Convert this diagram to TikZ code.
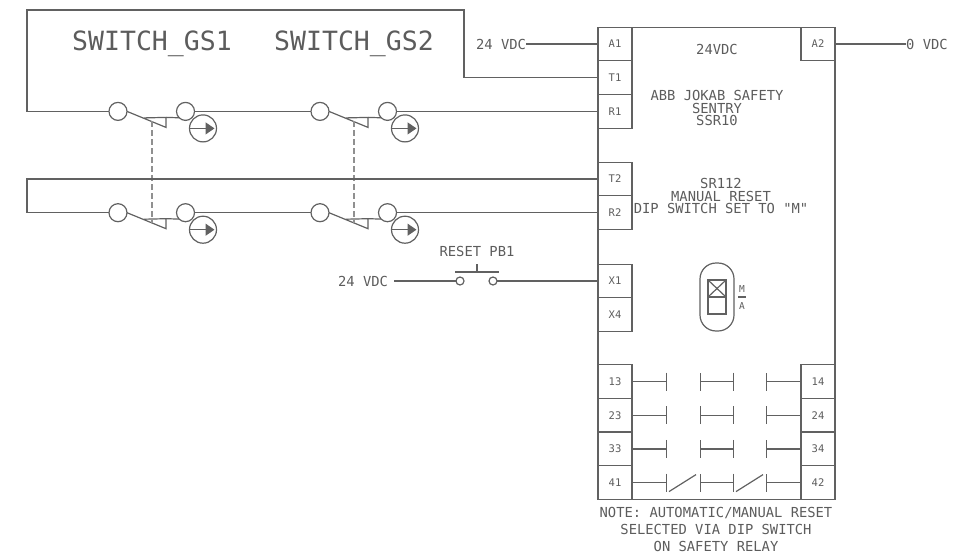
\documentclass[tikz,border=0pt]{standalone}
\usepackage{fontspec}
\setmonofont{DejaVu Sans Mono}
\usepackage{tikz}
\usetikzlibrary{arrows.meta, positioning}
\definecolor{wirecol}{gray}{0.38}
\definecolor{textcol}{gray}{0.36}
\tikzset{
  wire/.style={draw=wirecol, line width=1.2pt},
  term/.style={draw=wirecol, line width=1.2pt, minimum width=34pt, minimum height=33.7pt,
    inner sep=0pt, outer sep=0pt, text=textcol, font=\ttfamily\fontsize{10.5}{11}\selectfont},
  lbl/.style={text=textcol, inner sep=0pt, align=center, font=\ttfamily\fontsize{13.8}{12.5}\selectfont},
  biglbl/.style={text=textcol, inner sep=0pt, anchor=base, font=\ttfamily\fontsize{26.5}{26}\selectfont},
  notelbl/.style={lbl, font=\ttfamily\fontsize{13.8}{17}\selectfont},
  ring/.style={circle, draw=wirecol, line width=1.2pt, minimum size=18pt, inner sep=0pt, outer sep=0pt},
  pbring/.style={ring, minimum size=8pt},
  sensor/.style={ring, minimum size=27pt},
  contact/.style={wire, {Bar[width=18pt,length=1pt]}-{Bar[width=18pt,length=1pt]}}
}
\begin{document}
\begin{tikzpicture}[x=1pt, y=-1pt, node distance=33.7pt]
\useasboundingbox (0,0) rectangle (961,554);

% relay
\node[wire, minimum width=237pt, minimum height=472.5pt, inner sep=0pt, outer sep=0pt] (relay) at (716.5,263.4) {};
\node[term] (A1) at (615,44) {A1};
\node[term, below of=A1] (T1) {T1};
\node[term, below of=T1] (R1) {R1};
\node[term] (T2) at (615,179) {T2};
\node[term, below of=T2] (R2) {R2};
\node[term] (X1) at (615,281) {X1};
\node[term, below of=X1] (X4) {X4};
\node[term] (A2) at (818,44) {A2};
\node[term] (13) at (615,381.5) {13};
\node[term, below of=13] (23) {23};
\node[term, below of=23] (33) {33};
\node[term, below of=33] (41) {41};
\node[term] (14) at (818,381.5) {14};
\node[term, below of=14] (24) {24};
\node[term, below of=24] (34) {34};
\node[term, below of=34] (42) {42};

% texts
\node[biglbl] (GS1) at (152,50) {SWITCH\_GS1};
\node[biglbl] (GS2) at (354,50) {SWITCH\_GS2};
\node[lbl] (V24a) at (501,44) {24 VDC};
\node[lbl] (V0) at (927,44) {0 VDC};
\node[lbl] (V24b) at (363,281) {24 VDC};
\node[lbl] (V24c) at (717,49) {24VDC};
\node[lbl] (sentry) at (717,108) {ABB JOKAB SAFETY\\SENTRY\\SSR10};
\node[lbl] (reset) at (721,196) {SR112\\MANUAL RESET\\DIP SWITCH SET TO "M"};
\node[lbl] (pbtxt) at (477,251) {RESET PB1};
\node[notelbl] (note) at (716,529) {NOTE: AUTOMATIC/MANUAL RESET\\SELECTED VIA DIP SWITCH\\ON SAFETY RELAY};

% switches
\foreach \n/\x/\y in {a/118/111.4, b/320/111.4, c/118/212.7, d/320/212.7} {
  \node[ring] (\n L) at (\x,\y) {};
  \node[ring] (\n R) at (\x+67.5,\y) {};
  \node[sensor] (\n S) at (\x+85,\y+17) {};
  \coordinate (\n T) at (\x+48,\y+16);
  \coordinate (\n C) at (\x+26,\y+6.5);
  \coordinate (\n E) at (\x+48,\y+6);
  \coordinate (\n D) at (\x+34,\y+10);
  \draw[wire] (\n L.east) -- (\n T) -- (\n E) -- (\n C);
  \draw[wire] (\n E) -- (\n R.south west);
  \draw[wire, -{Triangle[length=9pt,width=12pt]}, shorten >=2pt] (\n S.west) -- (\n S.east);
}
\draw[wire, draw=wirecol!70, line width=1.5pt, dash pattern=on 6pt off 3pt] (aD) -- (cD);
\draw[wire, draw=wirecol!70, line width=1.5pt, dash pattern=on 6pt off 3pt] (bD) -- (dD);

% wiring
\coordinate (c1) at (27,10);
\coordinate (c2) at (464,10);
\coordinate (c3) at (27,179);
\draw[wire] (T1.west) -| (c2) -- (c1) |- (aL.west);
\draw[wire] (aR.east) -- (bL.west);
\draw[wire] (bR.east) -- (R1.west);
\draw[wire] (T2.west) -- (c3) |- (cL.west);
\draw[wire] (cR.east) -- (dL.west);
\draw[wire] (dR.east) -- (R2.west);
\draw[wire] (V24a.east) -- (A1.west);
\draw[wire] (A2.east) -- (V0.west);

% reset button
\node[pbring] (pbL) at (460,281) {};
\node[pbring] (pbR) at (493,281) {};
\coordinate (pb1) at (455,272);
\coordinate (pb2) at (499,272);
\coordinate (pb3) at (477,272);
\coordinate (pb4) at (477,264);
\draw[wire] (V24b.east) ++(6,0) -- (pbL.west);
\draw[wire] (pbR.east) -- (X1.west);
\draw[wire] (pb1) -- (pb2);
\draw[wire] (pb3) -- (pb4);

% selector
\node[wire, minimum width=34pt, minimum height=68pt, rounded corners=16pt, inner sep=0pt] (sel) at (717,297) {};
\node[wire, minimum width=18pt, minimum height=34pt, inner sep=0pt, outer sep=0pt] (selbox) at (717,297) {};
\draw[wire] (selbox.west) -- (selbox.east);
\draw[wire] (selbox.north west) -- (selbox.east);
\draw[wire] (selbox.north east) -- (selbox.west);
\node[lbl, font=\ttfamily\fontsize{9.5}{9}\selectfont] (selM) at (742,289) {M};
\node[lbl, font=\ttfamily\fontsize{9.5}{9}\selectfont] (selA) at (742,306) {A};
\coordinate (sel1) at (738,297);
\coordinate (sel2) at (746,297);
\draw[wire] (sel1) -- (sel2);

% contacts
\foreach \t/\r in {13/14, 23/24, 33/34, 41/42} {
  \coordinate (\t a) at (667,0 |- \t);
  \coordinate (\t b) at (700,0 |- \t);
  \coordinate (\t c) at (734,0 |- \t);
  \coordinate (\t d) at (766,0 |- \t);
  \draw[wire, -{Bar[width=18pt,length=1pt]}] (\t.east) -- (\t a);
  \draw[contact] (\t b) -- (\t c);
  \draw[wire, -{Bar[width=18pt,length=1pt]}] (\r.west) -- (\t d);
}
\draw[wire] ([shift={(2,9)}]41a) -- ([shift={(29,-8)}]41a);
\draw[wire] ([shift={(2,9)}]41c) -- ([shift={(29,-8)}]41c);
\end{tikzpicture}
\end{document}
